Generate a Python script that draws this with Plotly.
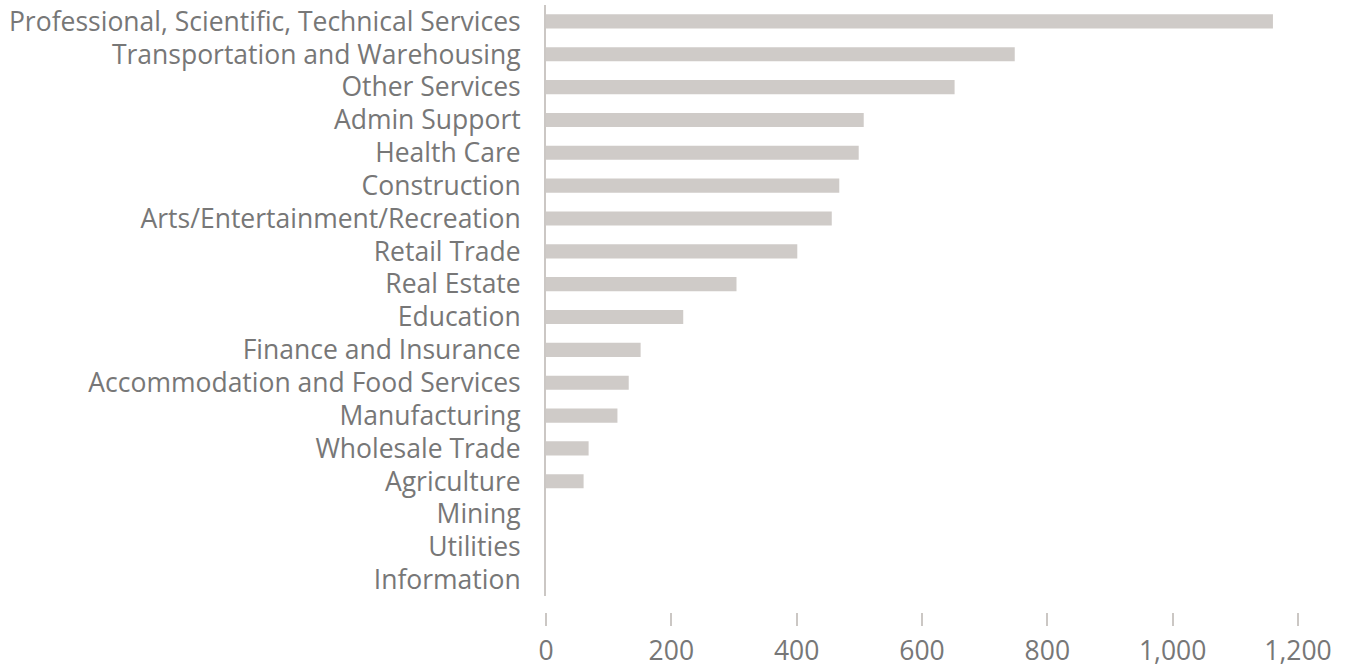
import plotly.graph_objects as go

categories = [
    "Professional, Scientific, Technical Services",
    "Transportation and Warehousing",
    "Other Services",
    "Admin Support",
    "Health Care",
    "Construction",
    "Arts/Entertainment/Recreation",
    "Retail Trade",
    "Real Estate",
    "Education",
    "Finance and Insurance",
    "Accommodation and Food Services",
    "Manufacturing",
    "Wholesale Trade",
    "Agriculture",
    "Mining",
    "Utilities",
    "Information",
]
values = [1160, 748, 652, 507, 499, 468, 456, 401, 304, 219, 151, 132, 114, 68, 60, 0, 0, 0]
x_ticks = [0, 200, 400, 600, 800, 1000, 1200]
x_tick_labels = ["0", "200", "400", "600", "800", "1,000", "1,200"]

fig = go.Figure(
    go.Bar(
        x=values,
        y=categories,
        orientation="h",
        marker=dict(color="#cfcbc8", line=dict(width=0)),
        width=0.43,
        hoverinfo="x+y",
    )
)

fig.update_layout(
    width=1351,
    height=668,
    margin=dict(l=546, r=53, t=5, b=56, autoexpand=False),
    paper_bgcolor="white",
    plot_bgcolor="white",
    font=dict(family="Open Sans", size=26.5, color="#777777"),
    showlegend=False,
    xaxis=dict(
        range=[0, 1200],
        tickvals=x_ticks,
        ticktext=x_tick_labels,
        showgrid=False,
        zeroline=False,
        showline=False,
        ticks="outside",
        ticklen=13,
        tickwidth=2,
        tickcolor="#cbc7c4",
        anchor="free",
        position=0,
        ticklabelstandoff=2,
        automargin=False,
        fixedrange=True,
    ),
    yaxis=dict(
        domain=[0.026, 1],
        autorange="reversed",
        showgrid=False,
        zeroline=False,
        showline=True,
        linecolor="#cbc7c4",
        linewidth=2,
        ticks="",
        ticklabelstandoff=18,
        automargin=False,
        fixedrange=True,
    ),
)

fig.write_html(
    "out.html",
    config={"displayModeBar": False},
    post_script="document.body.style.margin='0';document.body.style.overflow='hidden';",
)
